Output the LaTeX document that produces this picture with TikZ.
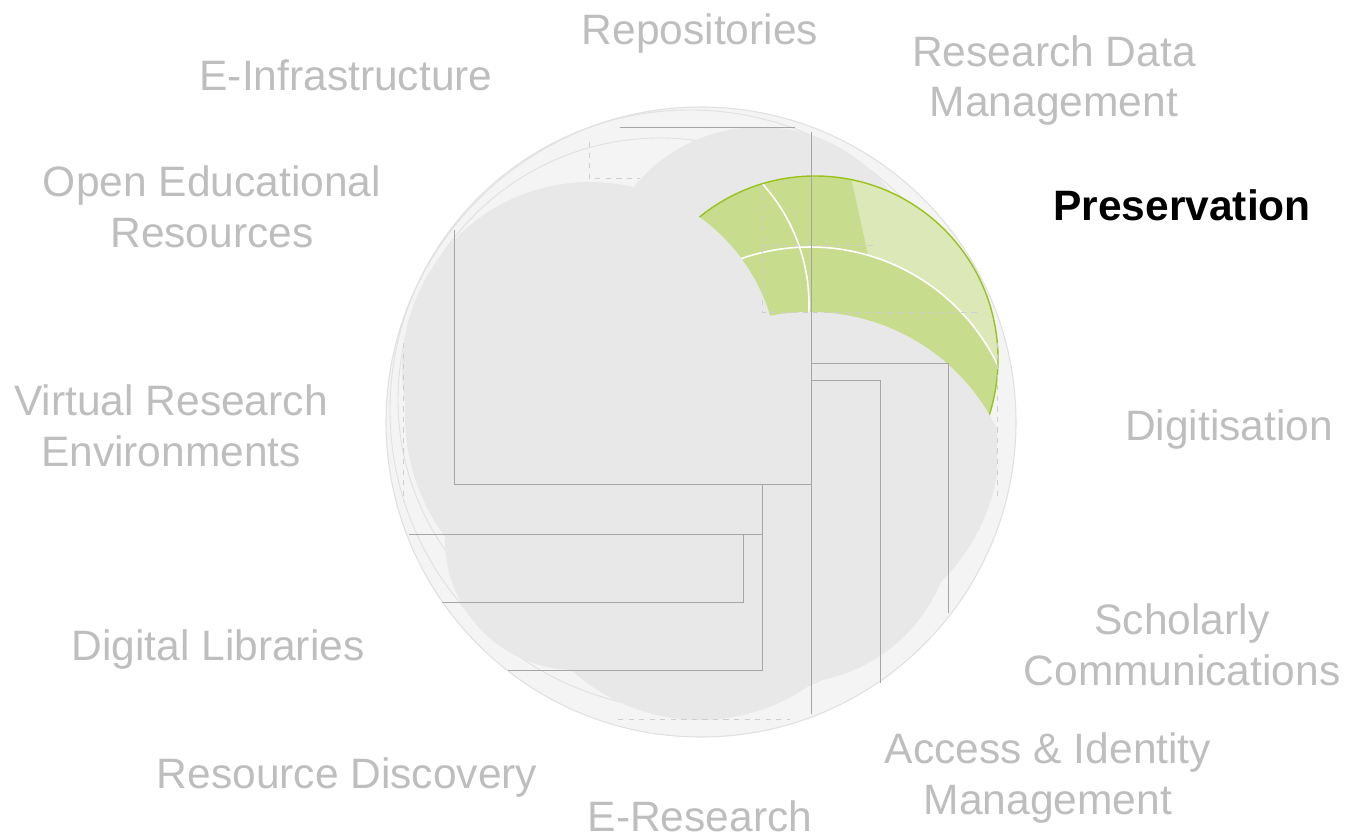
\documentclass[tikz,border=0pt]{standalone}
\usepackage{fontspec}
\setmainfont{Liberation Sans}
\definecolor{labelgrey}{HTML}{BEBEBE}
\definecolor{blobgrey}{HTML}{E8E8E8}
\definecolor{halogrey}{HTML}{F4F4F4}
\definecolor{edgegrey}{HTML}{E0E0E0}
\definecolor{linegrey}{HTML}{A6A6A6}
\definecolor{leafgreen}{HTML}{C8DC8E}
\definecolor{palegreen}{HTML}{DCE8B8}
\definecolor{rimgreen}{HTML}{99C21C}
\tikzset{lbl/.style={text=labelgrey, align=center, anchor=base, inner sep=0pt, font=\fontsize{24.2}{29}\selectfont}, blob/.style={fill=blobgrey}, frame/.style={draw=linegrey, line width=0.5pt}, faint/.style={draw=linegrey!55, line width=0.4pt, dashed}}

\begin{document}
\begin{tikzpicture}[x=0.02cm, y=-0.02cm]
    \useasboundingbox (0,0) rectangle (1346,838);

    \filldraw[fill=halogrey, draw=edgegrey, line width=0.6pt] (701,422) circle (315);
    \draw[edgegrey, line width=0.5pt] (690,410) circle (300);
    \draw[edgegrey, line width=0.5pt] (660,400) circle (262);

    \fill[blob] (610,415) circle (205);
    \fill[blob] (575,540) circle (130);
    \fill[blob] (700,530) circle (190);
    \fill[blob] (790,520) circle (163);
    \fill[blob] (760,290) circle (163);

    \begin{scope}
        \clip (815,359) circle (183);
        \fill[leafgreen] (815,359) circle (183);
        \begin{scope}
            \clip (845,150) -- (878,300) -- (900,470) -- (1010,470) -- (1010,150) -- cycle;
            \fill[palegreen, even odd rule] (840,140) rectangle (1010,470) (810,455) circle (208);
        \end{scope}
        \draw[white, line width=0.9pt] (810,455) circle (208);
        \draw[white, line width=0.9pt] (628,305) circle (181);
    \end{scope}
    \draw[rimgreen, line width=0.8pt] (815,359) circle (183);

    \fill[blob] (590,370) circle (188);
    \begin{scope}
        \clip (800,440) circle (200);
        \clip (600,300) rectangle (997,700);
        \fill[blob] (810,520) circle (208);
    \end{scope}

    \draw[frame] (454,230) -- (454,484) -- (811,484);
    \draw[frame] (811,132) -- (811,714);
    \draw[frame] (409,534) -- (762,534);
    \draw[frame] (762,484) -- (762,670) -- (508,670);
    \draw[frame] (442,602) -- (743,602) -- (743,534);
    \draw[frame] (811,363) -- (948,363) -- (948,613);
    \draw[frame] (811,380) -- (880,380) -- (880,683);
    \draw[frame] (620,127) -- (795,127);
    \draw[faint] (403,343) -- (403,502);
    \draw[faint] (589,142) -- (589,178) -- (640,178);
    \draw[faint] (618,719) -- (790,719);
    \draw[faint] (762,184) -- (762,312) -- (978,312);
    \draw[faint] (762,245) -- (875,245);
    \draw[faint] (997,343) -- (997,500);

    \node[lbl] (repo)  at (700,45)  {Repositories};
    \node[lbl] (einf)  at (346,91)  {E-Infrastructure};
    \node[lbl] (rdm)   at (1054,117) {Research Data\\Management};
    \node[lbl] (oer)   at (212,247) {Open Educational\\Resources};
    \node[lbl, text=black, font=\fontsize{24.2}{29}\selectfont\bfseries] (pres) at (1182,220) {Preservation};
    \node[lbl] (vre)   at (171,466) {Virtual Research\\Environments};
    \node[lbl] (digi)  at (1229,440) {Digitisation};
    \node[lbl] (schol) at (1182,685) {Scholarly\\Communications};
    \node[lbl] (dlib)  at (218,660) {Digital Libraries};
    \node[lbl] (aim)   at (1048,814) {Access \& Identity\\Management};
    \node[lbl] (rdisc) at (347,788) {Resource Discovery};
    \node[lbl] (eres)  at (700,831) {E-Research};
\end{tikzpicture}
\end{document}
